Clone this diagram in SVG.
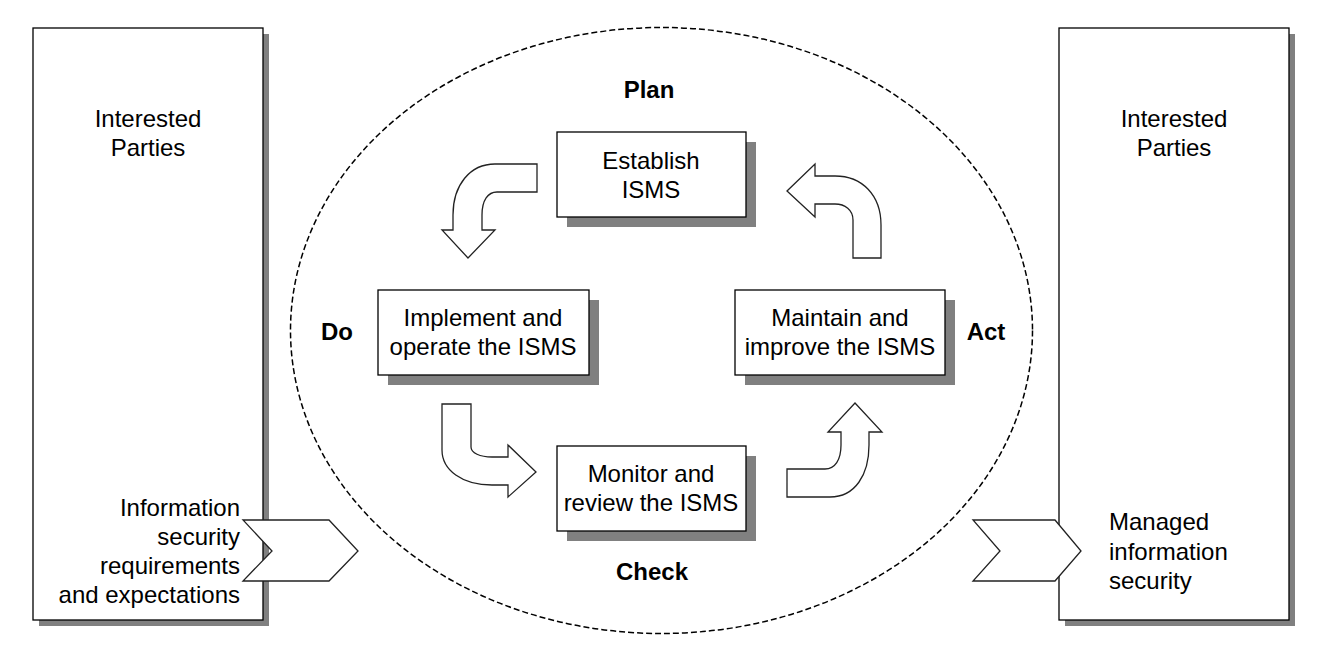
<svg xmlns="http://www.w3.org/2000/svg" width="1326" height="647" viewBox="0 0 1326 647">
<style>
.bg{fill:#fff}
.sh{fill:#808080}
.box{fill:#fff;stroke:#000;stroke-width:1.3}
.arr{fill:#fff;stroke:#222;stroke-width:1.3;stroke-linejoin:miter}
.t{font-family:"Liberation Sans",Arial,sans-serif;font-size:24px;fill:#000}
.c{text-anchor:middle}
.r{text-anchor:end}
.b{font-weight:bold}
</style>
<rect class="bg" x="0" y="0" width="1326" height="647"/>
<ellipse cx="661.5" cy="330.5" rx="371" ry="303" fill="none" stroke="#000" stroke-width="1.5" stroke-dasharray="6,3"/>
<g id="left-parties">
<rect class="sh" x="39" y="34" width="230" height="592"/>
<rect class="box" x="33" y="28" width="230" height="592"/>
<text class="t c" x="148" y="127">Interested</text>
<text class="t c" x="148" y="156">Parties</text>
<text class="t r" x="240" y="516">Information</text>
<text class="t r" x="240" y="545">security</text>
<text class="t r" x="240" y="574">requirements</text>
<text class="t r" x="240" y="603">and expectations</text>
</g>
<g id="right-parties">
<rect class="sh" x="1065" y="34" width="230" height="592"/>
<rect class="box" x="1059" y="28" width="230" height="592"/>
<text class="t c" x="1174" y="127">Interested</text>
<text class="t c" x="1174" y="156">Parties</text>
<text class="t" x="1109" y="530">Managed</text>
<text class="t" x="1109" y="560">information</text>
<text class="t" x="1109" y="589">security</text>
</g>
<g id="establish">
<rect class="sh" x="567" y="142" width="189" height="85"/>
<rect class="box" x="557" y="132" width="189" height="85"/>
<text class="t c" x="651" y="169">Establish</text>
<text class="t c" x="651" y="198">ISMS</text>
</g>
<g id="implement">
<rect class="sh" x="388" y="300" width="211" height="85"/>
<rect class="box" x="378" y="290" width="211" height="85"/>
<text class="t c" x="483" y="326">Implement and</text>
<text class="t c" x="483" y="355">operate the ISMS</text>
</g>
<g id="maintain">
<rect class="sh" x="745" y="300" width="210" height="85"/>
<rect class="box" x="735" y="290" width="210" height="85"/>
<text class="t c" x="840" y="326">Maintain and</text>
<text class="t c" x="840" y="355">improve the ISMS</text>
</g>
<g id="monitor">
<rect class="sh" x="567" y="456" width="189" height="85"/>
<rect class="box" x="557" y="446" width="189" height="85"/>
<text class="t c" x="651" y="482">Monitor and</text>
<text class="t c" x="651" y="511">review the ISMS</text>
</g>
<g id="labels">
<text class="t c b" x="649" y="98">Plan</text>
<text class="t c b" x="337" y="340">Do</text>
<text class="t c b" x="986" y="340">Act</text>
<text class="t c b" x="652" y="580">Check</text>
</g>
<g id="connectors">
<path class="arr" d="M537,164 L495,164 C470,164 453,185 453,215 L453,230 L442,230 L468,258 L495,230 L482,230 L482,215 C482,200 488,192 497,192 L537,192 Z"/>
<path class="arr" d="M787,191 L815,164 L815,176 L835,176 C862,176 881,195 881,225 L881,258 L853,258 L853,220 C853,210 845,204 835,204 L815,204 L815,217 Z"/>
<path class="arr" d="M442,404 L471,404 L471,447 C471,453 480,457 492,457 L508,457 L508,445 L536,472 L508,497 L508,485 L492,485 C462,485 442,470 442,450 Z"/>
<path class="arr" d="M787,469 L825,469 C835,469 841,460 841,445 L841,432 L828,432 L855,403 L882,432 L869,432 L869,445 C869,475 855,497 830,497 L787,497 Z"/>
<path class="arr" d="M243,520 L329,520 L358,551 L329,581 L243,581 L272,551 Z"/>
<path class="arr" d="M973,520 L1055,520 L1081,551 L1055,581 L973,581 L1000,551 Z"/>
</g>
</svg>
